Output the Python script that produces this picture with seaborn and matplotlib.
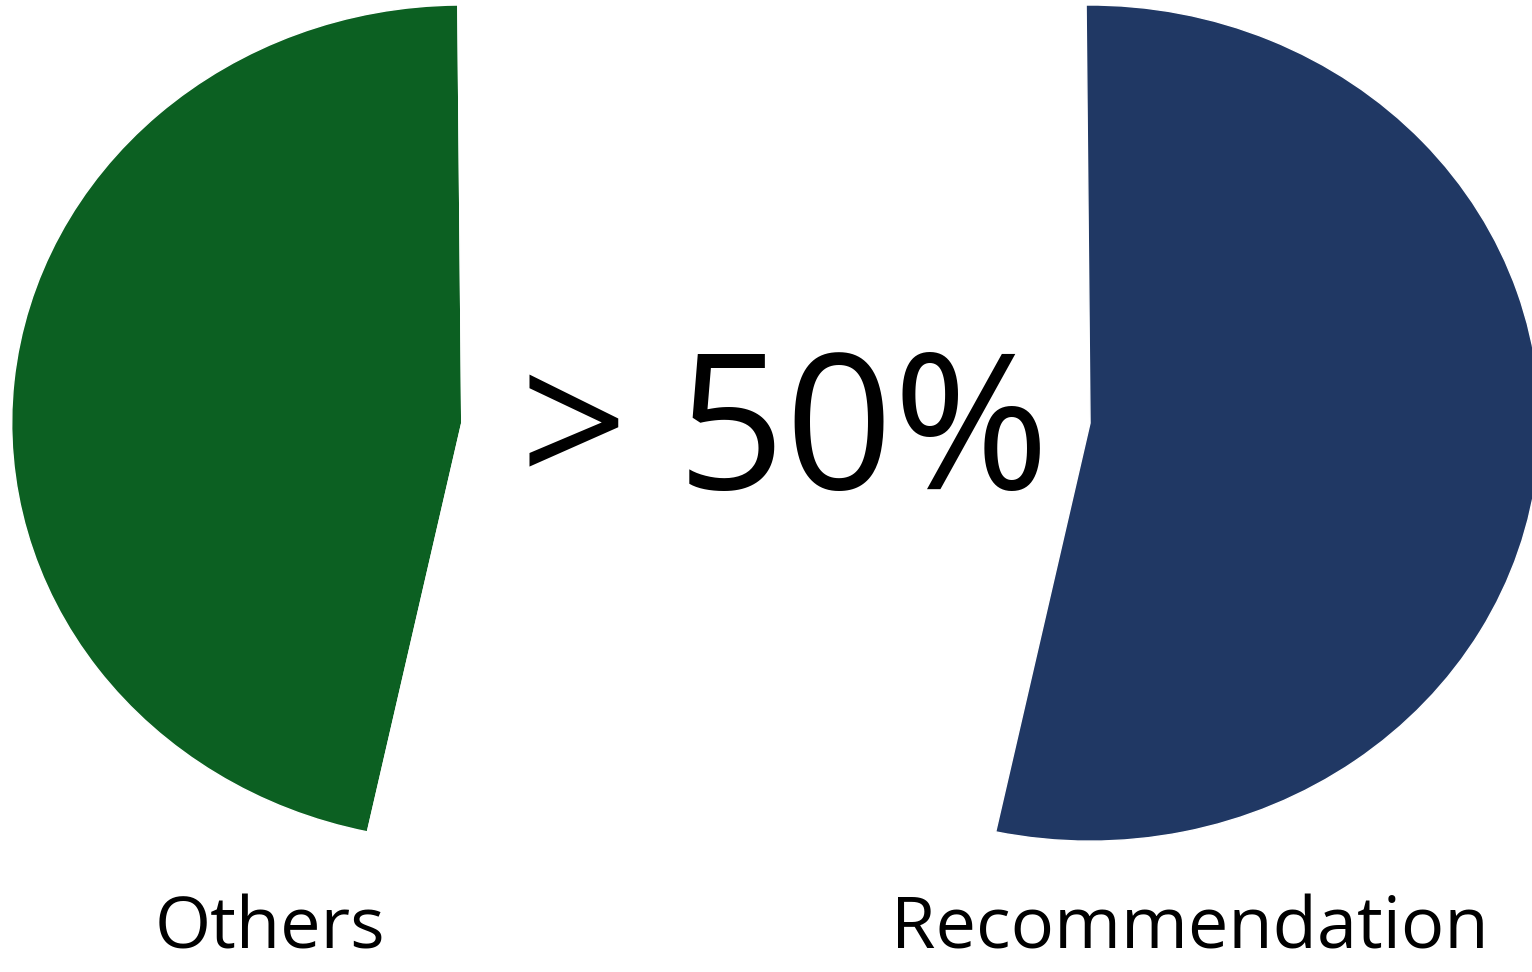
import matplotlib
matplotlib.use("Agg")
import matplotlib.pyplot as plt
import seaborn as sns

# data
labels = ["Others", "Recommendation"]
shares = [46.5, 53.5]
colors = ["#0C6022", "#203864"]
center_text = "> 50%"

sns.set_theme(style="white")
plt.rcParams['font.family'] = ['Open Sans', 'DejaVu Sans']

fig = plt.figure(figsize=(15.32, 9.72), dpi=100)
ax = fig.add_axes([0, 0, 1, 1])

# one pie per side, each showing only its own slice (exploded look)
ax.pie(shares, colors=[colors[0], "none"], startangle=90.5,
       center=(-0.698, 0), radius=1.0, frame=True)
ax.pie(shares, colors=["none", colors[1]], startangle=90.5,
       center=(0.698, 0), radius=1.0, frame=True)

ax.set_aspect("auto")
ax.set_xlim(-1.724, 1.68)
ax.set_ylim(-1.313, 1.012)
ax.axis("off")

ax.text(0.02, -0.04, center_text, ha="center", va="center", fontsize=136, color="black")
ax.text(-1.124, -1.212, labels[0], ha="center", va="center", fontsize=52, color="black")
ax.text(0.92, -1.212, labels[1], ha="center", va="center", fontsize=52, color="black")

fig.savefig("out.png", dpi=100)
